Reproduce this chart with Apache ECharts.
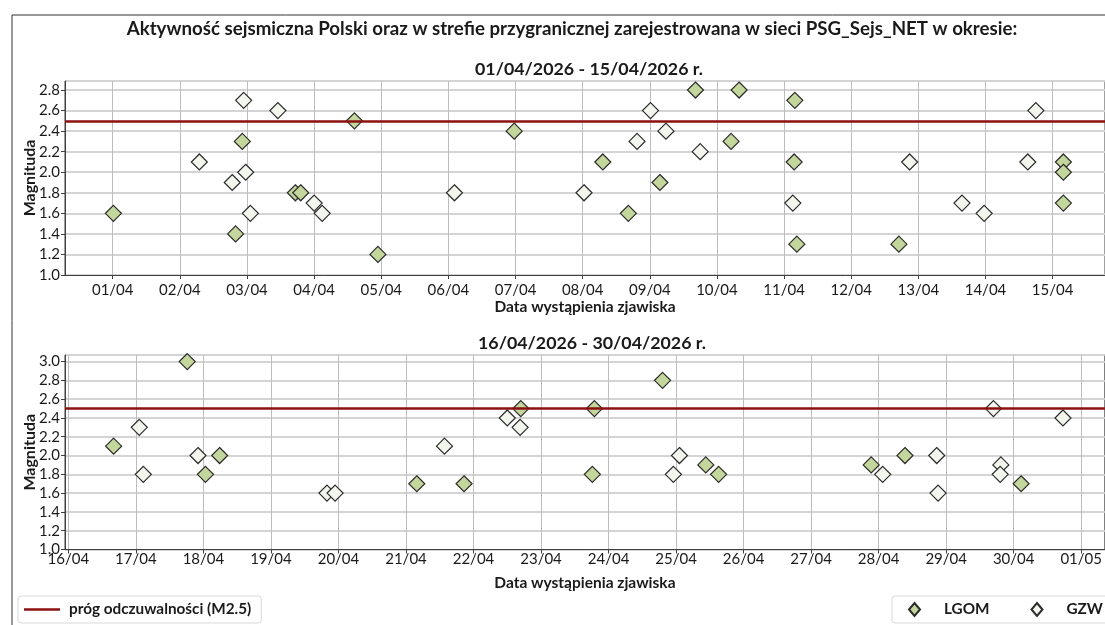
<!DOCTYPE html>
<html>
<head>
<meta charset="utf-8">
<script src="https://cdn.jsdelivr.net/npm/echarts@6/dist/echarts.min.js"></script>
<style>html,body{margin:0;padding:0;background:#fff;}#c{width:1105px;height:625px;}</style>
</head>
<body>
<div id="c"></div>
<script>
// Day-of-month (fractional) and magnitude
const lgomTop = [[1.01,1.6],[2.83,1.4],[2.93,2.3],[3.72,1.8],[3.80,1.8],[4.60,2.5],[4.95,1.2],[6.98,2.4],[8.30,2.1],[8.68,1.6],[9.15,1.9],[9.68,2.8],[10.21,2.3],[10.33,2.8],[11.16,2.7],[11.15,2.1],[11.19,1.3],[12.71,1.3],[15.16,2.1],[15.16,2.0],[15.16,1.7]];
const gzwTop = [[2.29,2.1],[2.78,1.9],[2.95,2.7],[2.98,2.0],[3.05,1.6],[3.46,2.6],[4.00,1.7],[4.12,1.6],[6.09,1.8],[8.02,1.8],[8.81,2.3],[9.01,2.6],[9.24,2.4],[9.75,2.2],[11.13,1.7],[12.87,2.1],[13.65,1.7],[13.98,1.6],[14.63,2.1],[14.75,2.6]];
const lgomBottom = [[16.67,2.1],[17.76,3.0],[18.03,1.8],[18.24,2.0],[21.16,1.7],[21.86,1.7],[22.70,2.5],[23.79,2.5],[23.76,1.8],[24.80,2.8],[25.44,1.9],[25.63,1.8],[27.89,1.9],[28.39,2.0],[30.11,1.7]];
const gzwBottom = [[17.05,2.3],[17.11,1.8],[17.92,2.0],[19.83,1.6],[19.95,1.6],[21.57,2.1],[22.50,2.4],[22.69,2.3],[24.96,1.8],[25.05,2.0],[28.06,1.8],[28.86,2.0],[28.88,1.6],[29.70,2.5],[29.81,1.9],[29.80,1.8],[30.73,2.4]];
const topTicks = [1,2,3,4,5,6,7,8,9,10,11,12,13,14,15];
const bottomTicks = [16,17,18,19,20,21,22,23,24,25,26,27,28,29,30,31];
const threshold = 2.5;
const mainTitle = 'Aktywność sejsmiczna Polski oraz w strefie przygranicznej zarejestrowana w sieci PSG_Sejs_NET w okresie:';
const topTitle = '01/04/2026 - 15/04/2026 r.';
const bottomTitle = '16/04/2026 - 30/04/2026 r.';
const thresholdName = 'próg odczuwalności (M2.5)';

const FONT = "Lato, 'Open Sans', sans-serif";
const TXT = '#1a1a1a';
const pad = n => (n < 10 ? '0' : '') + n;
const dayFmt = v => { const d = Math.round(v); return d <= 30 ? pad(d) + '/04' : pad(d - 30) + '/05'; };

function xAxis(gridIndex, min, max, ticks, labelMargin, nameGap) {
  return {
    type: 'value', gridIndex, min, max,
    name: 'Data wystąpienia zjawiska', nameLocation: 'middle', nameGap,
    nameTextStyle: { fontFamily: FONT, fontWeight: 'bold', fontSize: 15.5, color: TXT },
    axisLine: { show: true, lineStyle: { color: '#404040', width: 1 } },
    axisTick: { show: true, customValues: ticks, length: 4, lineStyle: { color: '#404040' } },
    axisLabel: { customValues: ticks, formatter: dayFmt, fontFamily: FONT, fontSize: 15, color: TXT, margin: labelMargin },
    splitLine: { show: true, lineStyle: { color: '#bdbdbd', width: 1 } }
  };
}
function yAxis(gridIndex, max) {
  return {
    type: 'value', gridIndex, min: 1.0, max, interval: 0.2,
    name: 'Magnituda', nameLocation: 'middle', nameGap: 27, nameMoveOverlap: false,
    nameTextStyle: { fontFamily: FONT, fontWeight: 'bold', fontSize: 16, color: TXT },
    axisLine: { show: true, lineStyle: { color: '#404040', width: 1 } },
    axisTick: { show: true, length: 4, lineStyle: { color: '#404040' } },
    axisLabel: { formatter: v => v.toFixed(1), fontFamily: FONT, fontSize: 15, color: TXT, margin: 5, showMaxLabel: false },
    splitLine: { show: true, lineStyle: { color: '#d4d4d4', width: 2 } }
  };
}
function scatter(name, data, xi, color) {
  return {
    type: 'scatter', name, data, xAxisIndex: xi, yAxisIndex: xi,
    symbol: 'diamond', symbolSize: 16,
    itemStyle: { color, borderColor: '#2b2b2b', borderWidth: 1.2, opacity: 1 },
    emphasis: { disabled: true }, z: 3
  };
}
function thresholdSeries(xi) {
  return {
    type: 'line', name: thresholdName, data: [], xAxisIndex: xi, yAxisIndex: xi,
    color: '#8b1010', lineStyle: { color: '#8b1010', width: 2 },
    markLine: { silent: true, symbol: 'none', label: { show: false },
      lineStyle: { color: '#8b1010', width: 2.5, type: 'solid' },
      data: [{ yAxis: threshold }] },
    z: 2
  };
}

const chart = echarts.init(document.getElementById('c'), null, { renderer: 'canvas' });
chart.setOption({
  animation: false,
  backgroundColor: '#fff',
  title: [
    { text: mainTitle, left: 567, top: 14, textAlign: 'center', textStyle: { fontFamily: FONT, fontWeight: 'bold', fontSize: 18.7, color: TXT } },
    { text: topTitle, left: 584, top: 55, textAlign: 'center', textStyle: { fontFamily: FONT, fontWeight: 'bold', fontSize: 17.8, color: TXT } },
    { text: bottomTitle, left: 587, top: 329, textAlign: 'center', textStyle: { fontFamily: FONT, fontWeight: 'bold', fontSize: 17.8, color: TXT } }
  ],
  grid: [
    { left: 65, top: 81, right: -2, height: 194, show: true, borderColor: '#404040', borderWidth: 1, containLabel: false },
    { left: 65, top: 355, right: -2, height: 194.5, show: true, borderColor: '#404040', borderWidth: 1, containLabel: false }
  ],
  xAxis: [ xAxis(0, 0.289, 15.78, topTicks, 8, 21), xAxis(1, 15.95, 31.35, bottomTicks, 2, 25) ],
  yAxis: [ yAxis(0, 2.888), yAxis(1, 3.07) ],
  legend: [
    { data: [{ name: thresholdName, icon: 'rect' }], left: 18, top: 596, itemWidth: 36, itemHeight: 2.5,
      padding: [6, 10, 6, 6], backgroundColor: '#fff', borderColor: '#d9d9d9', borderWidth: 1, borderRadius: 3,
      selectedMode: false, textStyle: { fontFamily: FONT, fontWeight: 'bold', fontSize: 15.3, color: TXT, padding: [0, 0, 0, 4] } },
    { data: ['LGOM', 'GZW'], left: 892, top: 596, width: 300, itemWidth: 11, itemHeight: 13, itemGap: 41,
      padding: [6, 20, 6, 16], backgroundColor: '#fff', borderColor: '#d9d9d9', borderWidth: 1, borderRadius: 3,
      selectedMode: false, textStyle: { fontFamily: FONT, fontWeight: 'bold', fontSize: 15.3, color: TXT, padding: [0, 0, 0, 19] } }
  ],
  graphic: [
    { type: 'rect', left: 9.5, top: 12.5, shape: { x: 0, y: 0, width: 1200, height: 700 }, style: { fill: 'none', stroke: '#333', lineWidth: 1 }, silent: true, z: -10 }
  ],
  series: [
    thresholdSeries(0), thresholdSeries(1),
    scatter('GZW', gzwTop, 0, '#f3f6ec'),
    scatter('LGOM', lgomTop, 0, '#c3d69b'),
    scatter('GZW', gzwBottom, 1, '#f3f6ec'),
    scatter('LGOM', lgomBottom, 1, '#c3d69b')
  ]
});
</script>
</body>
</html>
